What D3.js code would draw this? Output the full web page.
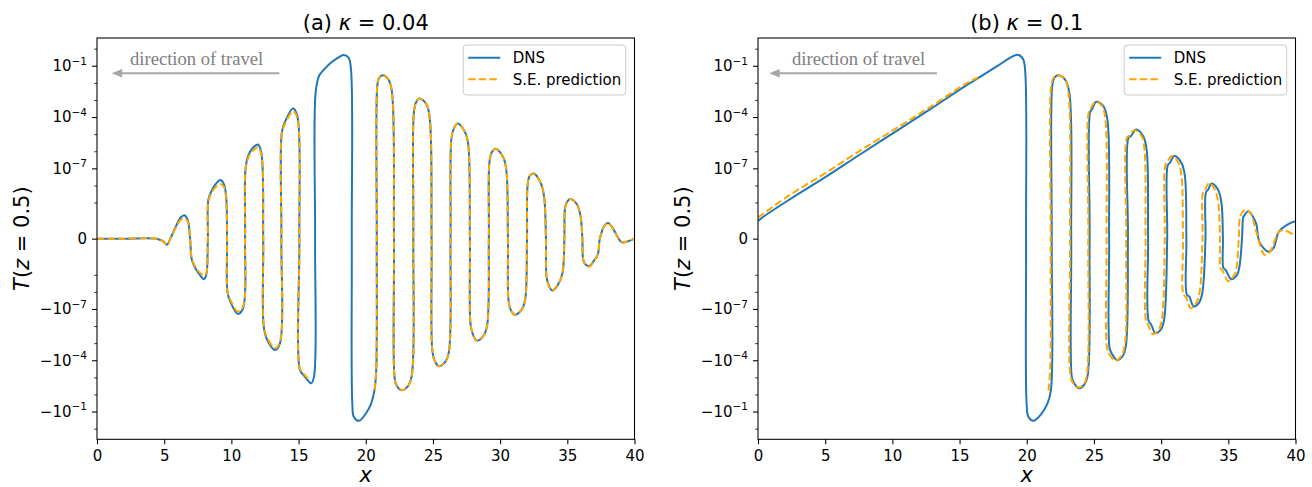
<!DOCTYPE html>
<html><head><meta charset="utf-8">
<script src="https://cdn.jsdelivr.net/npm/d3@7"></script>
<style>body{margin:0;background:#fff}svg{display:block}</style>
</head><body>
<script>
// ---------------- DATA ----------------
const xTicks = [0, 5, 10, 15, 20, 25, 30, 35, 40];
const yMajor = [-1e-1, -1e-4, -1e-7, 0, 1e-7, 1e-4, 1e-1];
const yTickBase = ["\u221210", "\u221210", "\u221210", "0", "10", "10", "10"];
const yTickExp = ["\u22121", "\u22124", "\u22127", "", "\u22127", "\u22124", "\u22121"];
const yMinor = [-1, -1e-2, -1e-3, -1e-5, -1e-6, -1e-8, -1e-9, 1e-9, 1e-8, 1e-6, 1e-5, 1e-3, 1e-2, 1];
const panelLetters = ["(a) ", "(b) "];
const kappaValues = ["0.04", "0.1"];
const seriesNames = ["DNS", "S.E. prediction"];
const annotationText = "direction of travel";

// panel (a): shared x grid for both series (S.E. prediction missing in the centre)
const xA = [0,2,4.43,4.9,5.2,5.46,5.85,6.23,6.49,6.75,6.93,7.06,7.39,7.65,7.96,8.13,8.25,8.29,8.55,8.81,9.19,9.45,9.61,9.68,9.72,9.97,10.48,10.87,11.02,11.05,11.25,11.6,11.98,12.23,12.37,12.41,12.67,13.26,13.62,13.72,13.75,13.96,14.6,14.91,15.06,15.1,15.37,15.7,15.94,16.15,16.23,16.27,16.53,16.92,17.43,17.95,18.34,18.72,18.9,18.96,19.0,19.11,19.5,20.01,20.4,20.65,20.78,20.82,20.86,20.99,21.3,21.68,21.94,22.1,22.14,22.28,22.64,23.1,23.41,23.54,23.58,23.74,24.0,24.52,24.77,24.9,24.95,25.11,25.42,25.93,26.19,26.31,26.37,26.53,26.83,27.35,27.61,27.75,27.79,27.94,28.25,28.72,29.02,29.16,29.2,29.36,29.67,30.18,30.44,30.58,30.62,30.78,31.08,31.6,31.86,32.0,32.04,32.19,32.5,33.02,33.27,33.41,33.45,33.61,33.87,34.3,34.64,34.78,34.82,34.95,35.21,35.72,35.98,36.12,36.16,36.28,36.62,37.01,37.27,37.42,37.78,38.04,38.42,38.81,39.07,40];
const dnsA = [0,0,0,-3e-12,-1e-11,0,3e-11,1.26e-10,1.73e-10,9e-11,0,-1.3e-10,-5.1e-10,-1e-9,-1.8e-9,-1e-9,0,1.5e-9,5.2e-9,1.15e-8,2.05e-8,1.15e-8,2.3e-9,0,-1.2e-8,-4.6e-8,-1.94e-7,-9.1e-8,0,8.7e-8,5.3e-7,1.6e-6,2.5e-6,8.1e-7,0,-1.07e-6,-6.5e-6,-2.5e-5,-1e-5,0,1.23e-5,4.7e-5,3.2e-4,1.15e-4,0,-3.7e-4,-7.4e-4,-1.5e-3,-2.25e-3,-9.1e-4,0,2.7e-3,0.026,0.063,0.155,0.30,0.42,0.30,0.063,0,-0.034,-0.2,-0.35,-0.13,-0.034,-5.6e-3,-3.7e-4,0,6.6e-3,0.02,0.028,0.016,3.4e-3,0,-9.1e-4,-2.8e-3,-5.6e-3,-3.6e-3,-9.1e-4,0,1.8e-4,7.1e-4,1.2e-3,5.6e-4,7.4e-5,0,-2.5e-5,-9.8e-5,-2.2e-4,-1.2e-4,-3.2e-5,0,5e-6,1.9e-5,4.2e-5,1.5e-5,3.2e-6,0,-6.9e-7,-2.6e-6,-7.1e-6,-4.2e-6,-1.07e-6,0,2.1e-7,8.1e-7,1.4e-6,5.2e-7,1.1e-7,0,-2.9e-8,-1.1e-7,-2.2e-7,-1.1e-7,-2.9e-8,0,8.9e-9,3.5e-8,5e-8,1.4e-8,2.3e-9,0,-1.26e-9,-3.9e-9,-8.3e-9,-3.9e-9,-8e-10,0,3.9e-10,9.6e-10,1.6e-9,7.6e-10,1.6e-10,0,-9.3e-11,-2.1e-10,-3e-10,-1.3e-10,-5.8e-11,0,3.9e-11,5.5e-11,2.1e-11,0,-5e-12,0];
const seA = [0,0,0,-3e-12,-1e-11,0,2.5e-11,9e-11,1.1e-10,7e-11,0,-1.1e-10,-4.2e-10,-7.5e-10,-1.1e-9,-8e-10,0,1.2e-9,4e-9,7.5e-9,1.2e-8,8e-9,2e-9,0,-1e-8,-3.5e-8,-1.4e-7,-7e-8,0,7e-8,4e-7,1.1e-6,1.7e-6,6e-7,0,-9e-7,-5e-6,-2e-5,-8e-6,0,1e-5,3.5e-5,2.2e-4,8e-5,0,-3e-4,-6e-4,-1.2e-3,null,null,null,null,null,null,null,null,null,null,null,null,null,null,null,null,null,-5.6e-3,-3.7e-4,0,6.6e-3,0.02,0.028,0.016,3.4e-3,0,-9.1e-4,-2.8e-3,-5.6e-3,-3.6e-3,-9.1e-4,0,1.8e-4,7.1e-4,1.2e-3,5.6e-4,7.4e-5,0,-2.5e-5,-9.8e-5,-2.2e-4,-1.2e-4,-3.2e-5,0,5e-6,1.9e-5,4.2e-5,1.5e-5,3.2e-6,0,-6.9e-7,-2.6e-6,-7.1e-6,-4.2e-6,-1.07e-6,0,2.1e-7,8.1e-7,1.4e-6,5.2e-7,1.1e-7,0,-2.9e-8,-1.1e-7,-2.2e-7,-1.1e-7,-2.9e-8,0,8.9e-9,3.5e-8,5e-8,1.4e-8,2.3e-9,0,-1.26e-9,-3.9e-9,-8.3e-9,-3.9e-9,-8e-10,0,3.9e-10,9.6e-10,1.6e-9,7.6e-10,1.6e-10,0,-9.3e-11,-2.2e-10,-3.3e-10,-1.4e-10,-6e-11,0,3.9e-11,5.5e-11,2.1e-11,0,-5e-12,0];

// panel (b): DNS
const xBdns = [0,0.32,2.39,4.98,7.56,10.15,12.74,15.33,16.62,17.92,18.95,19.34,19.73,19.89,19.95,19.99,20.12,20.51,21.02,21.54,21.8,21.86,21.9,22.06,22.32,22.84,23.17,23.31,23.35,23.49,23.74,23.87,24.26,24.52,24.68,24.72,24.86,25.17,25.69,26.0,26.13,26.17,26.33,26.72,27.11,27.37,27.53,27.57,27.76,28.14,28.66,28.92,29.03,29.07,29.26,29.57,29.96,30.22,30.45,30.49,30.65,30.99,31.51,31.77,31.88,31.92,32.1,32.42,32.8,33.06,33.3,33.34,33.5,33.76,34.23,34.49,34.6,34.64,34.8,35.21,35.65,35.83,36.02,36.1,36.17,36.5,36.87,37.08,37.33,37.98,38.37,38.76,39.4,40];
const dnsB = [7.4e-11,1.26e-10,1.57e-9,2.93e-8,6.27e-7,1.28e-5,2.61e-4,5.83e-3,0.0247,0.11,0.35,0.44,0.24,0.04,0,-0.034,-0.2,-0.35,-0.16,-0.034,-5.6e-3,0,6.6e-3,0.02,0.028,0.016,2.7e-3,0,-9.1e-4,-2e-3,-3.6e-3,-4.4e-3,-2.8e-3,-9.1e-4,0,2e-4,2.9e-4,7.8e-4,4.5e-4,7.4e-5,0,-2e-5,-4e-5,-9.8e-5,-6.2e-5,-1.6e-5,0,6e-6,7.8e-6,1.9e-5,7.8e-6,1.3e-6,0,-5e-7,-8e-7,-2.6e-6,-1.7e-6,-4.4e-7,0,1.5e-7,2.1e-7,5.2e-7,2.1e-7,3.5e-8,0,-1.5e-8,-1.9e-8,-7.2e-8,-4.6e-8,-1.2e-8,0,4e-9,5.7e-9,1.3e-8,5.7e-9,9.6e-10,0,-4e-10,-5.1e-10,-1.8e-9,-1e-9,-3.2e-10,0,1.2e-10,1.6e-10,3e-10,1.26e-10,4.8e-11,-5e-12,-3.7e-11,-1.9e-11,1.2e-11,4.4e-11,7.4e-11];

// panel (b): S.E. prediction
const xBse = [0,2.39,4.98,7.56,10.15,12.74,15.33,16.37,19.0,21.62,21.74,21.78,21.82,22.0,22.32,22.84,23.1,23.22,23.26,23.45,23.74,24.2,24.45,24.58,24.62,24.78,25.12,25.6,25.85,25.94,25.98,26.15,26.59,27.0,27.28,27.4,27.45,27.62,28.01,28.55,28.76,28.84,28.88,29.05,29.39,29.8,30.05,30.27,30.31,30.47,30.81,31.3,31.52,31.63,31.67,31.85,32.21,32.6,32.85,33.08,33.12,33.28,33.58,34.0,34.25,34.38,34.42,34.58,35.0,35.45,35.62,35.78,35.9,36.3,36.69,37.08,37.72,38.11,38.76,39.15,40];
const seB = [1.26e-10,2.83e-9,5.05e-8,1.03e-6,1.91e-5,3.57e-4,7.64e-3,0.0206,null,-6e-3,-4e-4,0,6.6e-3,0.02,0.028,0.016,2.7e-3,0,-9.1e-4,-2.2e-3,-3.9e-3,-2.8e-3,-9.1e-4,0,2e-4,3.5e-4,7.8e-4,4.5e-4,7.4e-5,0,-2e-5,-4.5e-5,-1.07e-4,-6.2e-5,-1.6e-5,0,6e-6,8e-6,1.7e-5,7.8e-6,1.3e-6,0,-5e-7,-9e-7,-3e-6,-1.7e-6,-4.4e-7,0,1.5e-7,2.5e-7,5.2e-7,2.1e-7,3.5e-8,0,-1.5e-8,-2e-8,-9.1e-8,-4.6e-8,-1.2e-8,0,4e-9,6e-9,1.4e-8,5.7e-9,9.6e-10,0,-4e-10,-6e-10,-2.4e-9,-1e-9,-3.2e-10,0,1.6e-10,3.9e-10,2e-10,1.2e-11,-6.2e-11,-3.7e-11,1.2e-11,1.6e-11,3.5e-12];

// ---------------- LAYOUT ----------------
const W = 1312, H = 487;
const yTop = 38, yBot = 439.3, yLim = 4.2;
const FONT = "DejaVu Sans, sans-serif";
const BLUE = "#1f77b4", ORANGE = "#ffa500";

const svg = d3.select("body").append("svg").attr("width", W).attr("height", H)
  .style("font-family", FONT);

const y = d3.scaleSymlog().constant(1e-10 / Math.pow(10, 1 / 0.9))
  .domain([-yLim, yLim]).range([yBot, yTop]);

const panels = [
  { left: 97, right: 634.5, series: [[xA, dnsA], [xA, seA]],
    arrow: [279.3, 111.7], textX: 130, ylabX: 29 },
  { left: 758, right: 1295.5, series: [[xBdns, dnsB], [xBse, seB]],
    arrow: [937, 769.2], textX: 792, ylabX: 689.5 }
];

const defs = svg.append("defs");

panels.forEach((p, i) => {
  const x = d3.scaleLinear().domain([0, 40]).range([p.left, p.right]);
  const g = svg.append("g");

  defs.append("clipPath").attr("id", "clip" + i).append("rect")
    .attr("x", p.left).attr("y", yTop).attr("width", p.right - p.left).attr("height", yBot - yTop);

  // lines
  const line = d3.line().defined(d => d[1] !== null)
    .x(d => x(d[0])).y(d => y(d[1])).curve(d3.curveCatmullRom.alpha(0.5));
  const styles = [
    { color: BLUE, dash: null },
    { color: ORANGE, dash: "7.4,3.2" }
  ];
  p.series.forEach((s, k) => {
    const pts = s[0].map((xv, j) => [xv, s[1][j]]);
    g.append("path").datum(pts)
      .attr("clip-path", `url(#clip${i})`)
      .attr("d", line).attr("fill", "none")
      .attr("stroke", styles[k].color).attr("stroke-width", 2)
      .attr("stroke-dasharray", styles[k].dash)
      .attr("stroke-linejoin", "round");
  });

  // x axis
  const gx = g.append("g").attr("transform", `translate(0,${yBot})`)
    .call(d3.axisBottom(x).tickValues(xTicks).tickSize(5).tickPadding(6).tickSizeOuter(0));
  gx.select(".domain").remove();
  gx.selectAll(".tick line").attr("stroke", "#000").attr("stroke-width", 1.07);
  gx.selectAll(".tick text").attr("font-size", "15px").attr("font-family", FONT).attr("fill", "#000");

  // y axis major
  const gy = g.append("g").attr("transform", `translate(${p.left},0)`)
    .call(d3.axisLeft(y).tickValues(yMajor).tickSize(5).tickPadding(5).tickSizeOuter(0).tickFormat(() => ""));
  gy.select(".domain").remove();
  gy.selectAll(".tick line").attr("stroke", "#000").attr("stroke-width", 1.07);
  gy.selectAll(".tick text").each(function (d, j) {
    const t = d3.select(this).attr("font-size", "15px").attr("font-family", FONT).attr("fill", "#000");
    t.append("tspan").text(yTickBase[j]);
    if (yTickExp[j]) t.append("tspan").attr("font-size", "10.5px").attr("dy", "-6.5").text(yTickExp[j]);
  });
  // y axis minor
  const gym = g.append("g").attr("transform", `translate(${p.left},0)`)
    .call(d3.axisLeft(y).tickValues(yMinor).tickSize(2.8).tickSizeOuter(0).tickFormat(() => ""));
  gym.select(".domain").remove();
  gym.selectAll(".tick line").attr("stroke", "#000").attr("stroke-width", 0.8);

  // frame
  g.append("rect").attr("x", p.left).attr("y", yTop)
    .attr("width", p.right - p.left).attr("height", yBot - yTop)
    .attr("fill", "none").attr("stroke", "#000").attr("stroke-width", 1.07);

  const cx = (p.left + p.right) / 2;
  // title
  const tt = g.append("text").attr("x", cx).attr("y", 29.5).attr("text-anchor", "middle")
    .attr("font-size", "21px").attr("fill", "#000");
  tt.append("tspan").text(panelLetters[i]);
  tt.append("tspan").attr("font-style", "italic").text("\u03ba");
  tt.append("tspan").text(" = " + kappaValues[i]);

  // x label
  g.append("text").attr("x", cx).attr("y", 482).attr("text-anchor", "middle")
    .attr("font-size", "21px").attr("font-style", "italic").attr("fill", "#000").text("x");

  // y label
  const yl = g.append("text").attr("transform", `translate(${p.ylabX},${(yTop + yBot) / 2}) rotate(-90)`)
    .attr("text-anchor", "middle").attr("font-size", "21px").attr("fill", "#000");
  yl.append("tspan").attr("font-style", "italic").text("T");
  yl.append("tspan").text("(");
  yl.append("tspan").attr("font-style", "italic").text("z");
  yl.append("tspan").text(" = 0.5)");

  // legend
  const lw = 162.5, lh = 50;
  const lx = p.right - 8.8 - lw, ly = 45;
  const lg = g.append("g");
  lg.append("rect").attr("x", lx).attr("y", ly).attr("width", lw).attr("height", lh)
    .attr("rx", 3).attr("fill", "#fff").attr("fill-opacity", 0.8)
    .attr("stroke", "#cccccc").attr("stroke-width", 1);
  [12.7, 34.3].forEach((dy, k) => {
    lg.append("line").attr("x1", lx + 5).attr("x2", lx + 37)
      .attr("y1", ly + dy).attr("y2", ly + dy)
      .attr("stroke", styles[k].color).attr("stroke-width", 2)
      .attr("stroke-dasharray", styles[k].dash);
    lg.append("text").attr("x", lx + 49.5).attr("y", ly + dy + 5.3)
      .attr("font-size", "15px").attr("fill", "#000").text(seriesNames[k]);
  });

  // annotation
  const ay = 73.3;
  g.append("line").attr("x1", p.arrow[0]).attr("x2", p.arrow[1] + 9).attr("y1", ay).attr("y2", ay)
    .attr("stroke", "#a6a6a6").attr("stroke-width", 2);
  g.append("path")
    .attr("d", d3.line()([[p.arrow[1], ay], [p.arrow[1] + 10.5, ay - 4.3], [p.arrow[1] + 10.5, ay + 4.3]]) + "Z")
    .attr("fill", "#a6a6a6");
  g.append("text").attr("x", p.textX).attr("y", 65)
    .attr("font-family", "Liberation Serif, serif").attr("font-size", "18.6px")
    .attr("fill", "#808080").text(annotationText);
});
</script>
</body></html>
